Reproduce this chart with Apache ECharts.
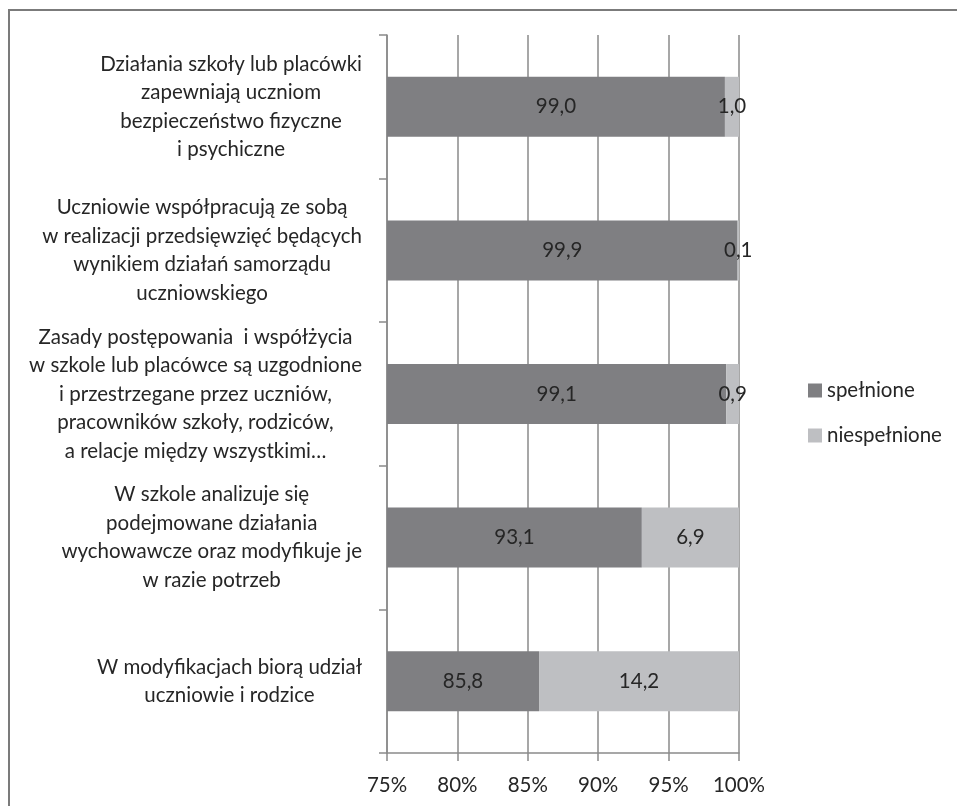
<!DOCTYPE html>
<html>
<head>
<meta charset="utf-8">
<script src="https://cdn.jsdelivr.net/npm/echarts@6/dist/echarts.min.js"></script>
<style>
  html, body { margin: 0; padding: 0; background: #fff; }
  #chart { width: 957px; height: 806px; }
</style>
</head>
<body>
<div id="chart"></div>
<script>
var categories = [
  'Działania szkoły lub placówki\nzapewniają uczniom\nbezpieczeństwo fizyczne\ni psychiczne',
  'Uczniowie współpracują ze sobą\nw realizacji przedsięwzięć będących\nwynikiem działań samorządu\nuczniowskiego',
  'Zasady postępowania  i współżycia\nw szkole lub placówce są uzgodnione\ni przestrzegane przez uczniów,\npracowników szkoły, rodziców,\na relacje między wszystkimi…',
  'W szkole analizuje się\npodejmowane działania\nwychowawcze oraz modyfikuje je\nw razie potrzeb',
  'W modyfikacjach biorą udział\nuczniowie i rodzice'
];
var spelnione = [99.0, 99.9, 99.1, 93.1, 85.8];
var niespelnione = [1.0, 0.1, 0.9, 6.9, 14.2];

var FONT = 'Lato';
var myChart = echarts.init(document.getElementById('chart'));

function fmt(p) {
  return p.value.toFixed(1).replace('.', ',');
}

// lines centred inside a right-aligned block, like the original
function catLabel(value) {
  return value.split('\n').map(function (l) {
    return '{c|' + l + '}';
  }).join('\n');
}

var option = {
  animation: false,
  textStyle: { fontFamily: FONT },
  graphic: [
    {
      type: 'rect',
      shape: { x: 9, y: 10, width: 1200, height: 1200 },
      style: { fill: 'none', stroke: '#7b7b7b', lineWidth: 2 }
    }
  ],
  legend: {
    orient: 'vertical',
    left: 803,
    top: 375,
    itemWidth: 14,
    itemHeight: 14,
    itemGap: 24,
    icon: 'rect',
    textStyle: { fontFamily: FONT, fontSize: 20.5, color: '#262626' },
    data: ['spełnione', 'niespełnione']
  },
  grid: { left: 387, right: 218, top: 35, bottom: 53 },
  xAxis: {
    type: 'value',
    min: 75,
    max: 100,
    interval: 5,
    axisLine: { show: true, lineStyle: { color: '#8a8a8a', width: 1.5 } },
    axisTick: { show: true, length: 8, lineStyle: { color: '#8a8a8a', width: 1.5 } },
    splitLine: { show: true, lineStyle: { color: '#8a8a8a', width: 1.5 } },
    axisLabel: {
      formatter: '{value}%',
      fontFamily: FONT,
      fontSize: 20.5,
      color: '#262626',
      margin: 22
    }
  },
  yAxis: {
    type: 'category',
    inverse: true,
    data: categories,
    axisLine: { show: true, lineStyle: { color: '#8a8a8a', width: 1.5 } },
    axisTick: { show: true, length: 8, lineStyle: { color: '#8a8a8a', width: 1.5 } },
    axisLabel: {
      align: 'right',
      margin: 25,
      formatter: catLabel,
      rich: {
        c: {
          align: 'center',
          fontFamily: FONT,
          fontSize: 20.5,
          lineHeight: 28.5,
          color: '#262626'
        }
      }
    }
  },
  series: [
    {
      name: 'spełnione',
      type: 'bar',
      stack: 'total',
      barWidth: 60,
      data: spelnione,
      itemStyle: { color: '#7f7f82' },
      label: {
        show: true,
        position: 'inside',
        formatter: fmt,
        fontFamily: FONT,
        fontSize: 20.5,
        color: '#262626'
      }
    },
    {
      name: 'niespełnione',
      type: 'bar',
      stack: 'total',
      barWidth: 60,
      data: niespelnione,
      itemStyle: { color: '#bebfc2' },
      label: {
        show: true,
        position: 'inside',
        formatter: fmt,
        fontFamily: FONT,
        fontSize: 20.5,
        color: '#262626'
      }
    }
  ]
};

myChart.setOption(option);
</script>
</body>
</html>
